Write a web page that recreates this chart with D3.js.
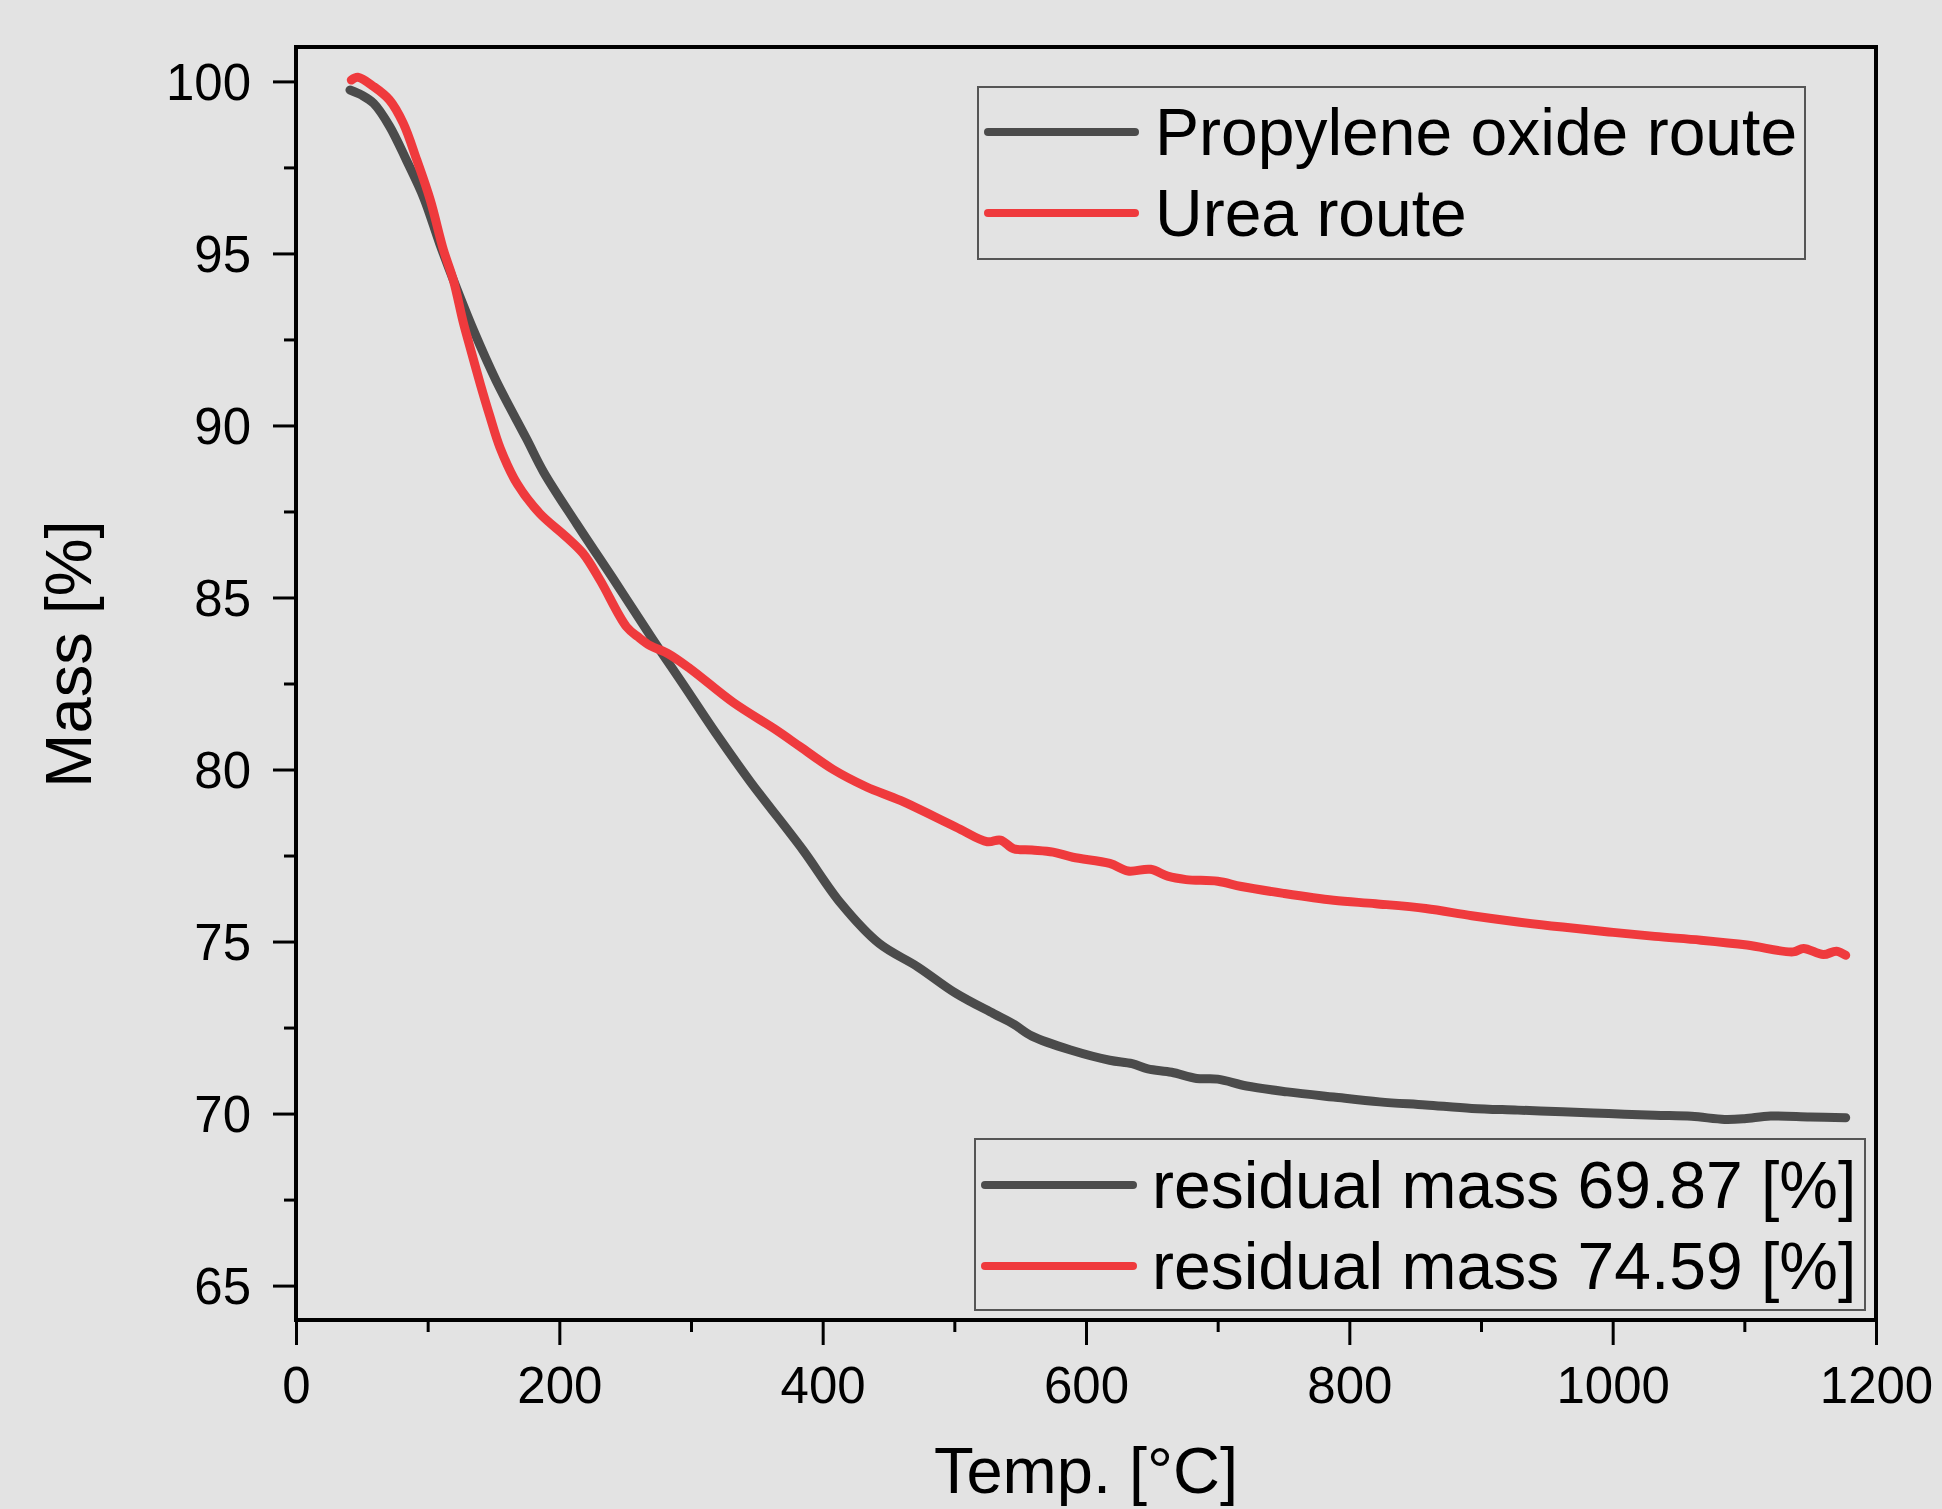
<!DOCTYPE html>
<html>
<head>
<meta charset="utf-8">
<script src="https://cdn.jsdelivr.net/npm/d3@7"></script>
<style>
  html, body { margin: 0; padding: 0; background: #e3e3e3; }
  svg { display: block; font-family: "Liberation Sans", Arial, sans-serif; }
</style>
</head>
<body>
<svg id="chart" width="1942" height="1509"></svg>
<script>
// ---- Data ----
const propyleneTemp = [41, 50, 59, 71, 84, 97, 109, 119.5, 135, 152, 175, 188, 213, 243, 271, 294, 319, 345, 357, 385, 414, 443, 472, 501, 530, 545, 559, 589, 618, 635, 647, 665, 684, 700, 722, 753, 788, 823, 858, 893, 928, 962, 997, 1032, 1060, 1085, 1100, 1120, 1150, 1177];
const propyleneMass = [99.75, 99.6, 99.36, 98.7, 97.7, 96.62, 95.3, 94.23, 92.75, 91.3, 89.62, 88.65, 87.15, 85.42, 83.78, 82.48, 81.05, 79.65, 79.05, 77.66, 76.1, 74.94, 74.27, 73.5, 72.9, 72.6, 72.25, 71.84, 71.55, 71.45, 71.3, 71.2, 71.02, 71.0, 70.8, 70.63, 70.48, 70.34, 70.25, 70.15, 70.1, 70.05, 70.0, 69.95, 69.92, 69.83, 69.85, 69.93, 69.9, 69.88];

const ureaTemp = [42, 47, 59, 71, 81.5, 91.7, 102, 112, 119.5, 127, 132, 140, 147, 155, 168, 185, 205, 218, 231, 251, 260, 269, 282, 299, 332, 365, 383, 408, 433, 459, 501, 525, 535, 545, 559, 575, 590, 618, 632, 649, 662, 676, 700, 718, 750, 788, 820, 858, 893, 928, 962, 997, 1032, 1067, 1102, 1137, 1145, 1160, 1170, 1177];
const ureaMass = [100.04, 100.12, 99.85, 99.46, 98.78, 97.72, 96.55, 95.1, 94.23, 93.0, 92.3, 91.2, 90.3, 89.35, 88.3, 87.45, 86.77, 86.28, 85.5, 84.15, 83.85, 83.6, 83.38, 82.94, 81.95, 81.14, 80.66, 80.0, 79.5, 79.1, 78.33, 77.9, 77.95, 77.7, 77.66, 77.6, 77.45, 77.27, 77.05, 77.1, 76.9, 76.8, 76.75, 76.6, 76.4, 76.2, 76.1, 75.96, 75.75, 75.57, 75.42, 75.28, 75.15, 75.04, 74.9, 74.7, 74.8, 74.62, 74.72, 74.6];

const xTicks = [0, 200, 400, 600, 800, 1000, 1200];
const yTicks = [65, 70, 75, 80, 85, 90, 95, 100];
const seriesNames = ["Propylene oxide route", "Urea route"];
const residualLabels = ["residual mass 69.87 [%]", "residual mass 74.59 [%]"];
const colors = ["#4b4b4b", "#ef3a3d"];

// ---- Layout ----
const svg = d3.select("#chart");
const L = 296, R = 1876, T = 47, B = 1320;
const x = d3.scaleLinear().domain([0, 1200]).range([L, R]);
const y = d3.scaleLinear().domain([64, 101]).range([B, T]);

svg.append("rect").attr("width", 1942).attr("height", 1509).attr("fill", "#e3e3e3");

// Data lines
const line = d3.line().x(d => x(d[0])).y(d => y(d[1])).curve(d3.curveCatmullRom.alpha(0.5));
const series = [
  d3.zip(propyleneTemp, propyleneMass),
  d3.zip(ureaTemp, ureaMass)
];
series.forEach((s, i) => {
  svg.append("path").datum(s)
    .attr("d", line)
    .attr("fill", "none")
    .attr("stroke", colors[i])
    .attr("stroke-width", 9)
    .attr("stroke-linejoin", "round")
    .attr("stroke-linecap", "round");
});

// Frame
svg.append("rect").attr("x", L).attr("y", T).attr("width", R - L).attr("height", B - T)
  .attr("fill", "none").attr("stroke", "#000").attr("stroke-width", 4);

// X axis
const xAxis = d3.axisBottom(x).tickValues(xTicks).tickSize(25).tickPadding(20).tickFormat(d3.format("d"));
const gx = svg.append("g").attr("transform", `translate(0,${B})`).call(xAxis);
gx.select(".domain").remove();
gx.selectAll(".tick line").attr("stroke", "#000").attr("stroke-width", 3);
gx.selectAll(".tick text").attr("font-size", 51).attr("fill", "#000")
  .attr("dy", null).attr("y", 83);
const xMinor = d3.axisBottom(x).tickValues(d3.range(100, 1200, 200)).tickSize(12).tickFormat("");
const gxm = svg.append("g").attr("transform", `translate(0,${B})`).call(xMinor);
gxm.select(".domain").remove();
gxm.selectAll(".tick line").attr("stroke", "#000").attr("stroke-width", 3);

// Y axis
const yAxis = d3.axisLeft(y).tickValues(yTicks).tickSize(23).tickPadding(22).tickFormat(d3.format("d"));
const gy = svg.append("g").attr("transform", `translate(${L},0)`).call(yAxis);
gy.select(".domain").remove();
gy.selectAll(".tick line").attr("stroke", "#000").attr("stroke-width", 3);
gy.selectAll(".tick text").attr("font-size", 51).attr("fill", "#000").attr("dy", "0.36em");
const yMinor = d3.axisLeft(y).tickValues(d3.range(67.5, 100, 5)).tickSize(12).tickFormat("");
const gym = svg.append("g").attr("transform", `translate(${L},0)`).call(yMinor);
gym.select(".domain").remove();
gym.selectAll(".tick line").attr("stroke", "#000").attr("stroke-width", 3);

// Axis titles
svg.append("text").attr("x", (L + R) / 2).attr("y", 1493).attr("text-anchor", "middle")
  .attr("font-size", 65).attr("fill", "#000").text("Temp. [°C]");
svg.append("text").attr("transform", "translate(91,654) rotate(-90)").attr("text-anchor", "middle")
  .attr("font-size", 65).attr("fill", "#000").text("Mass [%]");

// Legends
function legend(box, rows, labels) {
  svg.append("rect").attr("x", box[0]).attr("y", box[1]).attr("width", box[2] - box[0]).attr("height", box[3] - box[1])
    .attr("fill", "none").attr("stroke", "#555").attr("stroke-width", 2);
  labels.forEach((lab, i) => {
    svg.append("line").attr("x1", rows.x1).attr("x2", rows.x2).attr("y1", rows.ys[i]).attr("y2", rows.ys[i])
      .attr("stroke", colors[i]).attr("stroke-width", 8).attr("stroke-linecap", "round");
    svg.append("text").attr("x", rows.tx).attr("y", rows.ys[i] + 23).attr("font-size", 66).attr("fill", "#000").text(lab);
  });
}
legend([978, 87, 1805, 259], {x1: 988, x2: 1135, tx: 1155, ys: [132, 213]}, seriesNames);
legend([975, 1139, 1865, 1310], {x1: 985, x2: 1133, tx: 1152, ys: [1185, 1266]}, residualLabels);
</script>
</body>
</html>
